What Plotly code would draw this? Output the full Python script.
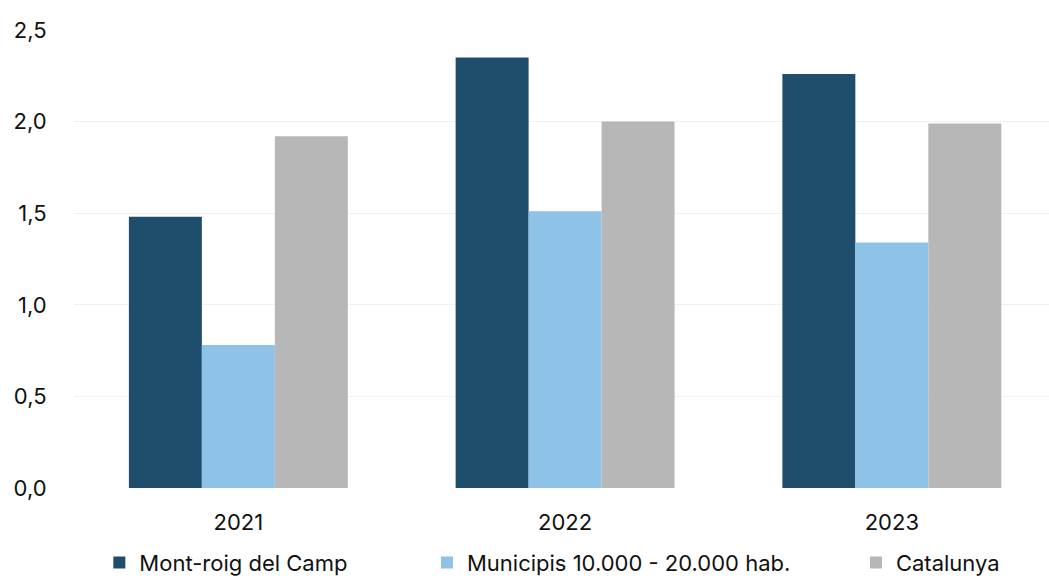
import plotly.graph_objects as go

years = ["2021", "2022", "2023"]
mont_roig = [1.48, 2.35, 2.26]
municipis = [0.78, 1.51, 1.34]
catalunya = [1.92, 2.00, 1.99]

series_names = ["Mont-roig del Camp", "Municipis 10.000 - 20.000 hab.", "Catalunya"]
series_values = [mont_roig, municipis, catalunya]
series_colors = ["#1f4e6c", "#8ec2e7", "#b7b7b7"]
legend_ids = ["legend", "legend2", "legend3"]
legend_x = [0.026, 0.362, 0.802]

FONT = "Inter, Liberation Sans, Arial, sans-serif"

fig = go.Figure()
for name, vals, color, lg in zip(series_names, series_values, series_colors, legend_ids):
    fig.add_trace(go.Bar(x=years, y=vals, name=name, marker_color=color,
                         marker_line_width=0, legend=lg))

legend_style = dict(orientation="h", xanchor="left", y=-0.163, yanchor="middle",
                    font=dict(family=FONT, size=22, color="#111"), itemwidth=30,
                    bgcolor="rgba(0,0,0,0)")

fig.update_layout(
    width=1049, height=581,
    margin=dict(l=74, r=0, t=30, b=93, autoexpand=False),
    paper_bgcolor="white", plot_bgcolor="white",
    barmode="group", bargap=0.33, bargroupgap=0,
    separators=",.",
    font=dict(family=FONT, size=22, color="#111"),
    legend=dict(x=legend_x[0], **legend_style),
    legend2=dict(x=legend_x[1], **legend_style),
    legend3=dict(x=legend_x[2], **legend_style),
    showlegend=True,
)
fig.update_xaxes(showgrid=False, showline=False, ticks="outside", ticklen=15,
                 tickcolor="rgba(0,0,0,0)", tickfont=dict(size=22),
                 range=[-0.503, 2.481], automargin=False)
fig.update_yaxes(range=[0, 2.5], dtick=0.5, tickformat=".1f", showgrid=True,
                 gridcolor="#f0f0f0", gridwidth=1, zeroline=False, showline=False,
                 ticks="outside", ticklen=22, tickcolor="rgba(0,0,0,0)",
                 tickfont=dict(size=22), automargin=False)

fig.write_html("out.html")
